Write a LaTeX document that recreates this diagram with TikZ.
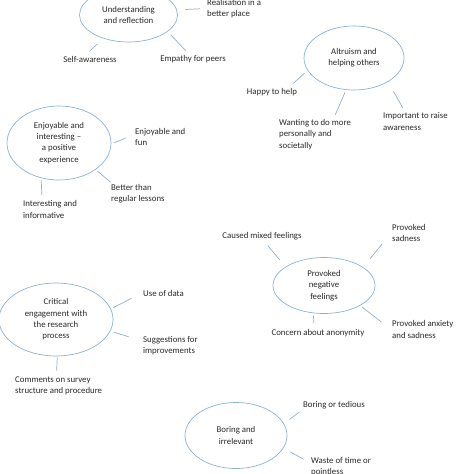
\documentclass[tikz,border=0pt]{standalone}
\usepackage{fontspec}
\setmainfont{Carlito}
\usepackage{tikz}
\usetikzlibrary{shapes,calc}

\definecolor{bubbleblue}{RGB}{140,178,210}
\definecolor{linkblue}{RGB}{150,175,200}
\definecolor{notegray}{RGB}{40,40,40}

\tikzset{
  bubble/.style={ellipse, draw=bubbleblue, line width=0.7pt, inner sep=0pt, align=center, text=notegray, font=\fontsize{8.8}{11.3}\selectfont},
  note/.style={inner sep=1pt, align=left, text=notegray, font=\fontsize{8.8}{11.3}\selectfont},
  link/.style={draw=linkblue, line width=0.7pt}
}

\begin{document}
\begin{tikzpicture}[x=1pt,y=-1pt]
    \useasboundingbox (0,0) rectangle (474,474);

    \node[bubble, minimum width=98pt, minimum height=54pt] (ur) at (128.5,15) {Understanding\\and reflection};
    \node[bubble, minimum width=100pt, minimum height=64pt] (au) at (354,58) {Altruism and\\helping others};
    \node[bubble, minimum width=104pt, minimum height=74pt] (ei) at (59,143) {Enjoyable and\\interesting –\\a positive\\experience};
    \node[bubble, minimum width=102pt, minimum height=56pt] (pn) at (324,285.5) {Provoked\\negative\\feelings};
    \node[bubble, minimum width=114pt, minimum height=73pt] (ce) at (56,319.5) {Critical\\engagement with\\the research\\process};
    \node[bubble, minimum width=102pt, minimum height=66pt] (bi) at (236,435.5) {Boring and\\irrelevant};

    \node[note, anchor=west] (rp) at (206,8.5) {Realisation in a\\better place};
    \node[note] (sa) at (90,59) {Self-awareness};
    \node[note] (ep) at (193,59) {Empathy for peers};
    \node[note] (hh) at (272,92) {Happy to help};
    \node[note, anchor=west] (wm) at (278,134.5) {Wanting to do more\\personally and\\societally};
    \node[note, anchor=west] (ir) at (382,121.5) {Important to raise\\awareness};
    \node[note, anchor=west] (ef) at (134,137) {Enjoyable and\\fun};
    \node[note, anchor=west] (bt) at (110,193.5) {Better than\\regular lessons};
    \node[note, anchor=west] (ii) at (22,209.5) {Interesting and\\informative};
    \node[note] (cm) at (262,236) {Caused mixed feelings};
    \node[note, anchor=west] (ps) at (391,233) {Provoked\\sadness};
    \node[note] (ca) at (318,333) {Concern about anonymity};
    \node[note, anchor=west] (pa) at (391,329.5) {Provoked anxiety\\and sadness};
    \node[note, anchor=west] (ud) at (142,293) {Use of data};
    \node[note, anchor=west] (si) at (142,346) {Suggestions for\\improvements};
    \node[note, anchor=west] (cs) at (14,386) {Comments on survey\\structure and procedure};
    \node[note, anchor=west] (bo) at (302,405) {Boring or tedious};
    \node[note, anchor=west] (wt) at (310,466.5) {Waste of time or\\pointless};

    \draw[link, shorten <=8.3pt, shorten >=6pt] (ur.6) -- (rp.west);
    \draw[link, shorten <=8pt, shorten >=4.9pt] (ur.-137.5) -- (sa.135);
    \draw[link, shorten <=4.4pt, shorten >=4.2pt] (ur.-23.7) -- (ep.130);
    \draw[link, shorten <=4pt, shorten >=5.3pt] (au.-165.5) -- (hh.16);
    \draw[link, shorten <=2.6pt, shorten >=3.7pt] (au.-104.4) -- (wm.41);
    \draw[link, shorten <=10.9pt, shorten >=4pt] (au.-35) -- (ir.137.5);
    \draw[link, shorten <=3pt, shorten >=8.6pt] (ei.-1) -- (ef.175);
    \draw[link, shorten <=2.3pt, shorten >=1pt] (ei.-36.3) -- (bt.158);
    \draw[link, shorten <=2.3pt, shorten >=4.5pt] (ei.-117.4) -- (ii.129);
    \draw[link, shorten <=9pt, shorten >=6.2pt] (pn.154) -- (cm.-70);
    \draw[link, shorten <=11pt, shorten >=14pt] (pn.25.7) -- (ps.west);
    \draw[link, shorten <=2.5pt, shorten >=5pt] (pn.-111.3) -- (ca.128);
    \draw[link, shorten <=2.6pt, shorten >=12pt] (pn.-29.3) -- (pa.west);
    \draw[link, shorten <=2.6pt, shorten >=12pt] (ce.11.8) -- (ud.west);
    \draw[link, shorten <=3.4pt, shorten >=14pt] (ce.-12.2) -- (si.170);
    \draw[link, shorten <=1pt, shorten >=5pt] (ce.-88) -- (cs.102);
    \draw[link, shorten <=6.9pt, shorten >=3.5pt] (bi.14.3) -- (bo.south west);
    \draw[link, shorten <=7.4pt, shorten >=7.3pt] (bi.-15.9) -- (wt.173);
\end{tikzpicture}
\end{document}
